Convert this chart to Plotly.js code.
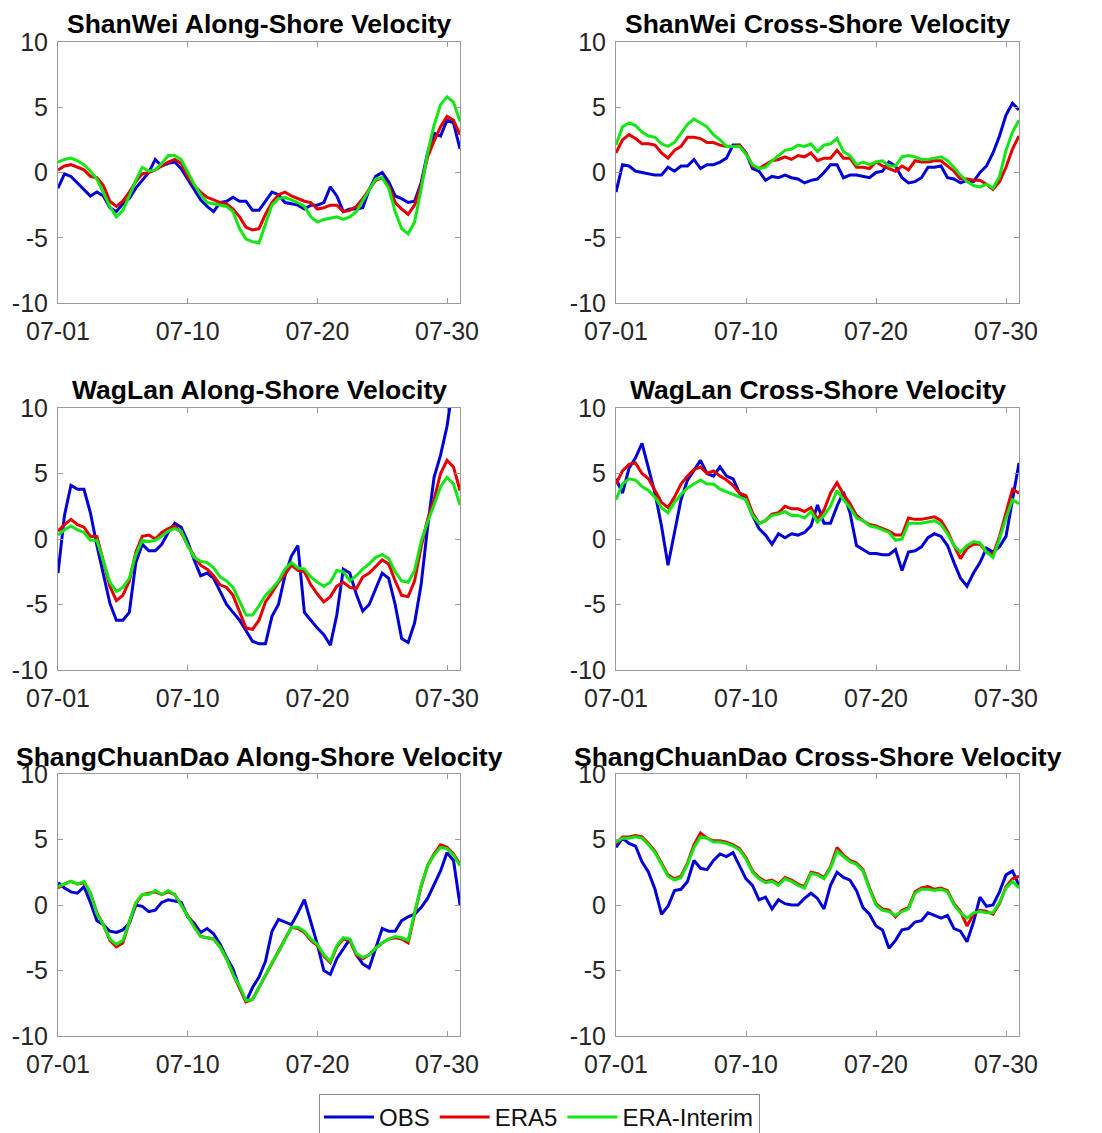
<!DOCTYPE html>
<html>
<head>
<meta charset="utf-8">
<script src="https://cdn.plot.ly/plotly-3.0.1.min.js"></script>
<style>
  html, body { margin: 0; padding: 0; background: #ffffff; }
  #chart { width: 1102px; height: 1133px; }
</style>
</head>
<body>
<div id="chart"></div>
<script>
// Time axis: days since 07-01 (half-day samples)
const days = [0,0.5,1,1.5,2,2.5,3,3.5,4,4.5,5,5.5,6,6.5,7,7.5,8,8.5,9,9.5,10,10.5,11,11.5,12,12.5,13,13.5,14,14.5,15,15.5,16,16.5,17,17.5,18,18.5,19,19.5,20,20.5,21,21.5,22,22.5,23,23.5,24,24.5,25,25.5,26,26.5,27,27.5,28,28.5,29,29.5,30,30.5,31];
const tickDays = [0, 10, 20, 30];
const tickLabels = ['07-01', '07-10', '07-20', '07-30'];
const seriesNames = ['OBS', 'ERA5', 'ERA-Interim'];
const panelTitles = [
  'ShanWei Along-Shore Velocity', 'ShanWei Cross-Shore Velocity',
  'WagLan Along-Shore Velocity', 'WagLan Cross-Shore Velocity',
  'ShangChuanDao Along-Shore Velocity', 'ShangChuanDao Cross-Shore Velocity'
];

// ShanWei along-shore
const swAlongObs = [-1.2,-0.1,-0.3,-0.8,-1.3,-1.8,-1.5,-1.8,-2.7,-3.0,-2.4,-2.0,-1.2,-0.6,0.0,1.0,0.5,0.7,0.8,0.3,-0.5,-1.4,-2.1,-2.6,-3.0,-2.3,-2.2,-1.9,-2.2,-2.2,-2.9,-2.9,-2.2,-1.5,-1.7,-2.3,-2.4,-2.5,-2.8,-2.5,-2.5,-2.3,-1.1,-1.8,-3.0,-2.8,-2.8,-2.7,-1.3,-0.3,0.0,-0.7,-1.8,-2.0,-2.3,-2.2,-0.8,1.5,3.0,2.8,4.0,3.8,1.8];
const swAlongEra5 = [0.2,0.5,0.6,0.4,0.2,-0.3,-0.4,-1.0,-2.2,-2.6,-2.2,-1.5,-0.7,-0.1,0.0,0.2,0.5,0.8,1.0,0.7,-0.3,-1.0,-1.5,-1.9,-2.1,-2.3,-2.4,-2.8,-3.4,-4.2,-4.4,-4.3,-3.2,-2.3,-1.7,-1.5,-1.8,-2.0,-2.2,-2.3,-2.8,-2.7,-2.5,-2.5,-3.0,-2.9,-2.6,-2.0,-1.3,-0.6,-0.4,-1.0,-2.3,-2.8,-3.2,-2.5,-1.0,1.2,2.4,3.5,4.3,4.0,2.9];
const swAlongEraI = [0.8,1.0,1.1,0.9,0.6,0.1,-0.5,-1.5,-2.6,-3.4,-2.9,-1.8,-0.6,0.4,0.1,0.2,0.7,1.3,1.3,1.0,0.0,-0.9,-1.7,-2.3,-2.4,-2.5,-2.6,-3.0,-4.3,-5.1,-5.3,-5.4,-3.9,-2.5,-2.0,-1.9,-2.1,-2.3,-2.6,-3.4,-3.8,-3.6,-3.5,-3.4,-3.6,-3.4,-3.0,-2.2,-1.3,-0.5,-0.4,-1.2,-3.0,-4.3,-4.7,-3.8,-1.3,1.5,3.6,5.2,5.8,5.4,3.9];

// ShanWei cross-shore
const swCrossObs = [-1.5,0.6,0.5,0.1,0.0,-0.1,-0.2,-0.2,0.4,0.1,0.5,0.5,1.0,0.3,0.6,0.6,0.8,1.1,2.1,2.1,1.5,0.3,0.1,-0.6,-0.3,-0.4,-0.2,-0.4,-0.5,-0.8,-0.6,-0.5,0.0,0.6,0.6,-0.4,-0.2,-0.2,-0.3,-0.4,0.0,0.1,0.8,0.5,-0.4,-0.8,-0.7,-0.4,0.4,0.4,0.5,-0.4,-0.5,-0.8,-0.6,-0.7,0.0,0.5,1.5,2.8,4.4,5.3,4.8];
const swCrossEra5 = [1.5,2.5,2.9,2.6,2.2,2.2,2.1,1.5,1.1,1.7,2.0,2.7,2.7,2.6,2.3,2.3,2.1,2.0,2.0,2.1,1.5,0.5,0.3,0.6,0.9,1.0,1.2,1.0,1.3,1.2,1.5,0.9,1.1,1.1,1.7,1.1,1.1,0.4,0.4,0.3,0.8,0.5,0.3,0.1,0.5,0.2,0.9,0.8,0.8,0.9,0.9,0.5,0.1,-0.5,-0.5,-0.6,-0.6,-0.9,-1.3,-0.7,0.4,1.8,2.8];
const swCrossEraI = [2.1,3.5,3.8,3.6,3.1,2.8,2.7,2.2,2.0,2.3,3.0,3.7,4.1,3.8,3.5,2.9,2.5,2.0,2.0,2.0,1.4,0.6,0.3,0.4,0.9,1.3,1.7,1.8,2.1,2.0,2.2,1.6,2.1,2.2,2.6,1.6,1.3,0.6,0.8,0.6,0.8,0.9,0.5,0.5,1.2,1.3,1.2,1.0,1.0,1.1,1.2,0.9,0.4,-0.2,-0.7,-1.0,-1.1,-0.9,-1.2,-0.3,1.7,3.1,4.0];

// WagLan along-shore
const wlAlongObs = [-2.6,1.8,4.1,3.8,3.8,2.0,-0.5,-2.6,-4.9,-6.2,-6.2,-5.6,-1.8,-0.4,-0.9,-0.9,-0.4,0.5,1.2,0.9,-0.2,-1.6,-2.8,-2.6,-3.0,-4.0,-5.0,-5.6,-6.2,-7.0,-7.8,-8.0,-8.0,-5.9,-5.0,-2.8,-1.3,-0.5,-5.6,-6.2,-6.8,-7.3,-8.1,-5.8,-2.3,-2.6,-4.2,-5.5,-5.0,-3.8,-2.6,-3.0,-5.0,-7.6,-7.9,-6.4,-3.5,0.9,4.7,6.4,8.6,12.0,13.5];
const wlAlongEra5 = [0.6,1.1,1.5,1.1,0.9,0.2,0.2,-1.7,-3.6,-4.7,-4.3,-3.2,-1.0,0.2,0.3,0.0,0.5,0.8,1.0,0.5,-0.5,-1.3,-2.0,-2.3,-2.8,-3.5,-3.7,-4.3,-5.6,-6.8,-6.9,-6.2,-4.8,-4.1,-3.3,-2.7,-2.0,-2.4,-2.5,-3.5,-4.2,-4.8,-4.4,-3.6,-3.3,-3.7,-3.8,-2.9,-2.6,-2.1,-1.6,-1.9,-3.2,-4.3,-4.4,-3.2,-0.6,1.5,3.0,5.0,6.0,5.5,3.7];
const wlAlongEraI = [0.3,0.7,1.0,0.7,0.5,-0.1,-0.1,-1.8,-3.3,-4.0,-3.7,-3.0,-1.2,-0.1,-0.2,-0.1,0.2,0.6,0.8,0.6,-0.5,-1.4,-1.7,-1.8,-2.2,-2.9,-3.2,-3.7,-4.8,-5.8,-5.8,-5.1,-4.3,-3.8,-3.2,-2.3,-1.8,-2.2,-2.3,-2.9,-3.3,-3.6,-3.3,-2.4,-2.5,-3.2,-2.8,-2.3,-1.9,-1.4,-1.2,-1.5,-2.5,-3.2,-3.3,-2.4,-0.2,1.3,2.6,4.0,4.7,4.2,2.6];

// WagLan cross-shore
const wlCrossObs = [4.6,3.5,5.4,6.2,7.3,5.4,3.5,1.0,-2.0,0.5,3.0,4.5,5.3,6.0,5.0,4.8,5.5,4.8,4.6,3.5,3.0,1.8,0.8,0.3,-0.4,0.4,0.1,0.4,0.3,0.5,1.0,2.6,1.2,1.2,2.5,3.6,2.0,-0.5,-0.8,-1.1,-1.1,-1.2,-1.2,-0.8,-2.4,-1.0,-0.9,-0.6,0.1,0.4,0.2,-0.5,-1.8,-3.0,-3.6,-2.6,-1.8,-0.7,-1.0,-0.6,0.2,3.0,5.8];
const wlCrossEra5 = [4.2,5.2,5.7,5.8,5.0,4.6,3.7,2.8,2.4,3.2,4.2,4.8,5.3,5.5,5.0,5.2,4.8,4.5,4.1,3.5,3.3,2.0,1.2,1.4,1.9,2.0,2.5,2.3,2.3,2.1,2.4,1.5,2.2,3.5,4.3,3.4,2.7,1.8,1.4,1.1,1.0,0.8,0.6,0.3,0.3,1.6,1.5,1.5,1.6,1.7,1.4,0.6,-0.5,-1.5,-0.7,-0.4,-0.4,-1.0,-1.2,0.2,2.0,3.8,3.5];
const wlCrossEraI = [3.0,4.2,4.6,4.5,4.0,3.7,3.2,2.4,2.0,2.8,3.4,3.9,4.2,4.5,4.2,4.2,3.8,3.6,3.4,3.2,3.0,1.8,1.2,1.4,1.8,1.9,2.1,1.8,1.8,1.6,2.1,1.3,1.8,2.5,3.7,3.0,2.4,1.6,1.4,1.0,0.9,0.7,0.5,-0.1,0.0,1.2,1.2,1.2,1.3,1.4,1.1,0.4,-0.5,-1.0,-0.5,-0.2,-0.3,-1.0,-1.4,0.0,1.6,3.0,2.7];

// ShangChuanDao along-shore
const scAlongObs = [1.7,1.3,1.0,0.9,1.4,0.2,-1.2,-1.5,-2.0,-2.1,-1.9,-1.4,0.0,-0.1,-0.5,-0.4,0.2,0.4,0.3,0.2,-0.9,-1.4,-2.1,-1.8,-2.2,-3.0,-4.0,-4.9,-6.3,-7.4,-6.3,-5.5,-4.3,-2.0,-1.1,-1.3,-1.5,-0.6,0.4,-1.3,-3.0,-5.0,-5.3,-4.1,-3.3,-2.6,-3.8,-4.5,-4.8,-3.3,-1.8,-2.0,-2.0,-1.2,-0.9,-0.7,-0.2,0.5,1.5,2.6,4.0,3.4,0.0];
const scAlongEra5 = [1.3,1.6,1.8,1.6,1.7,0.9,-0.6,-1.5,-2.7,-3.2,-2.9,-1.3,0.1,0.8,0.9,1.0,0.8,1.0,0.8,0.0,-0.9,-1.7,-2.4,-2.5,-2.6,-3.2,-4.1,-5.3,-6.3,-7.4,-7.2,-6.3,-5.3,-4.4,-3.6,-2.7,-1.7,-1.8,-2.1,-2.7,-3.1,-3.9,-4.4,-3.2,-2.6,-2.7,-3.8,-4.1,-3.8,-3.3,-2.9,-2.6,-2.5,-2.6,-2.9,-0.7,1.4,3.0,3.9,4.6,4.4,3.9,3.1];
const scAlongEraI = [1.4,1.6,1.8,1.6,1.8,0.9,-0.7,-1.5,-2.6,-3.0,-2.7,-1.3,0.2,0.8,0.8,1.1,0.8,1.1,0.8,0.0,-0.9,-1.7,-2.4,-2.5,-2.6,-3.2,-4.1,-5.3,-6.2,-7.3,-7.2,-6.3,-5.3,-4.4,-3.6,-2.7,-1.7,-1.7,-2.0,-2.6,-3.0,-3.8,-4.3,-3.1,-2.5,-2.6,-3.7,-4.0,-3.8,-3.3,-2.9,-2.6,-2.4,-2.5,-2.7,-0.6,1.5,3.0,3.8,4.4,4.3,3.8,3.0];

// ShangChuanDao cross-shore
const scCrossObs = [4.4,5.1,4.7,4.5,3.3,2.5,1.2,-0.7,-0.1,1.1,1.2,1.8,3.4,2.8,2.7,3.4,3.9,3.7,4.0,3.0,2.0,1.5,0.4,0.6,-0.3,0.4,0.1,0.0,0.0,0.5,0.9,0.5,-0.3,1.5,2.5,2.1,1.9,1.1,-0.2,-0.7,-1.6,-1.9,-3.3,-2.7,-1.9,-1.8,-1.3,-1.2,-0.6,-0.8,-1.0,-0.8,-1.8,-2.0,-2.8,-1.3,0.6,-0.1,0.0,1.0,2.3,2.6,1.5];
const scCrossEra5 = [4.7,5.2,5.2,5.3,5.2,4.7,4.1,3.2,2.3,2.0,2.2,3.2,4.6,5.5,5.1,4.9,4.9,4.8,4.6,4.3,3.6,2.6,2.1,1.8,1.9,1.6,2.1,1.9,1.6,1.4,2.5,2.4,2.1,2.9,4.4,3.8,3.4,3.2,2.7,1.3,0.1,-0.3,-0.4,-0.9,-0.4,-0.2,1.0,1.3,1.4,1.2,1.3,1.1,0.1,-0.5,-1.6,-0.7,-0.4,-0.5,-0.7,0.1,1.4,2.0,2.2];
const scCrossEraI = [4.8,5.1,5.1,5.2,5.1,4.6,4.0,3.1,2.2,1.9,2.1,3.1,4.4,5.2,5.1,4.8,4.8,4.7,4.5,4.2,3.5,2.5,2.0,1.7,1.8,1.5,2.0,1.8,1.5,1.3,2.4,2.3,2.0,2.8,4.1,3.7,3.3,3.1,2.6,1.2,0.0,-0.4,-0.5,-0.8,-0.5,-0.3,0.9,1.2,1.2,1.1,1.2,1.0,0.0,-0.6,-1.0,-0.6,-0.5,-0.6,-0.6,0.2,1.3,1.8,1.3];

const panels = [
  [swAlongObs, swAlongEra5, swAlongEraI],
  [swCrossObs, swCrossEra5, swCrossEraI],
  [wlAlongObs, wlAlongEra5, wlAlongEraI],
  [wlCrossObs, wlCrossEra5, wlCrossEraI],
  [scAlongObs, scAlongEra5, scAlongEraI],
  [scCrossObs, scCrossEra5, scCrossEraI]
];

const colors = ['#0000d6', '#e40000', '#14e614'];
const W = 1102, H = 1133;
// pixel boxes of the axes
const colX = [[58, 460], [616, 1019]];
const rowY = [[42, 303], [408, 670], [774, 1036]];
const titleY = [24, 390, 757];

const traces = [];
const layout = {
  width: W, height: H,
  margin: {l: 0, r: 0, t: 0, b: 0, autoexpand: false},
  paper_bgcolor: '#ffffff', plot_bgcolor: '#ffffff',
  font: {family: 'Liberation Sans, Arial, sans-serif', color: '#262626'},
  showlegend: true,
  legend: {
    orientation: 'h', x: 539.5 / W, xanchor: 'center', y: 1 - 1094 / H, yanchor: 'top',
    bordercolor: '#8a8a8a', borderwidth: 1, bgcolor: '#ffffff',
    font: {size: 24, color: '#111111'}, itemwidth: 50, tracegroupgap: 0
  },
  annotations: []
};

panels.forEach((series, i) => {
  const r = Math.floor(i / 2), c = i % 2;
  const n = i + 1;
  const xa = 'xaxis' + (n === 1 ? '' : n), ya = 'yaxis' + (n === 1 ? '' : n);
  const xr = 'x' + (n === 1 ? '' : n), yr = 'y' + (n === 1 ? '' : n);
  series.forEach((vals, k) => {
    traces.push({
      x: days, y: vals, xaxis: xr, yaxis: yr, type: 'scatter', mode: 'lines',
      name: seriesNames[k], legendgroup: seriesNames[k], showlegend: i === 0,
      line: {color: colors[k], width: 3}, hoverinfo: 'skip'
    });
  });
  const common = {
    showline: true, linecolor: '#9a9a9a', linewidth: 1, mirror: 'ticks',
    ticks: 'inside', ticklen: 5, tickcolor: '#9a9a9a', tickwidth: 1,
    showgrid: false, zeroline: false, fixedrange: true,
    tickfont: {size: 25, color: '#262626', family: 'Liberation Sans, Arial, sans-serif'}
  };
  layout[xa] = Object.assign({}, common, {
    domain: [colX[c][0] / W, colX[c][1] / W], anchor: yr,
    range: [0, 31], tickmode: 'array', tickvals: tickDays, ticktext: tickLabels,
    ticklabelstandoff: 6
  });
  layout[ya] = Object.assign({}, common, {
    domain: [1 - rowY[r][1] / H, 1 - rowY[r][0] / H], anchor: xr,
    range: [-10, 10], tickmode: 'array', tickvals: [-10, -5, 0, 5, 10],
    ticktext: ['-10', '-5', '0', '5', '10'], ticklabelstandoff: 4
  });
  layout.annotations.push({
    text: '<b>' + panelTitles[i] + '</b>', xref: 'paper', yref: 'paper',
    x: (colX[c][0] + colX[c][1]) / 2 / W, y: 1 - titleY[r] / H,
    xanchor: 'center', yanchor: 'middle', showarrow: false,
    font: {size: 26.5, color: '#000000', family: 'Liberation Sans, Arial, sans-serif'}
  });
});

Plotly.newPlot('chart', traces, layout, {staticPlot: true, displayModeBar: false});
</script>
</body>
</html>
